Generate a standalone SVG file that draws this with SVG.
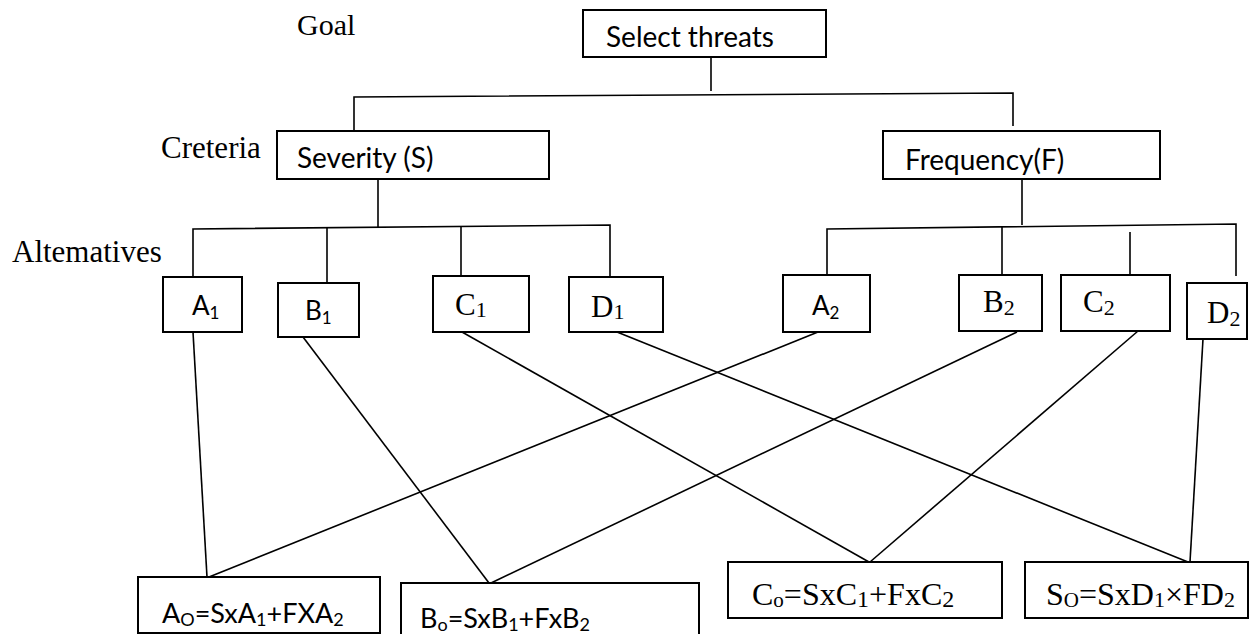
<svg xmlns="http://www.w3.org/2000/svg" width="1257" height="634" viewBox="0 0 1257 634">
<style>
.box{fill:#fff;stroke:#000;stroke-width:2}
.ln{stroke:#000;stroke-width:1.6;fill:none}
.serif{font-family:"Liberation Serif","Times New Roman",serif;fill:#000}
.sans{font-family:Lato,"Liberation Sans",sans-serif;fill:#000}
</style>
<rect width="1257" height="634" fill="#fff"/>
<g id="level-labels">
<text class="serif" x="297" y="35" font-size="30">Goal</text>
<text class="serif" x="161" y="158" font-size="31">Creteria</text>
<text class="serif" x="12" y="262" font-size="31">Altematives</text>
</g>
<g id="connectors" class="ln">
<line x1="711" y1="57" x2="711" y2="91"/>
<polyline points="354,131 354,97 1013,93 1013,126"/>
<line x1="378" y1="179" x2="378" y2="227"/>
<polyline points="193,277 193,229 610,225 610,277"/>
<line x1="327" y1="228" x2="327" y2="283"/>
<line x1="461" y1="226" x2="461" y2="279"/>
<line x1="1022" y1="179" x2="1022" y2="225"/>
<polyline points="827,275 827,229 1236,224 1236,276"/>
<line x1="1002" y1="227" x2="1002" y2="275"/>
<line x1="1130" y1="232" x2="1130" y2="278"/>
<line x1="193" y1="332" x2="207" y2="577"/>
<line x1="303" y1="337" x2="489" y2="583"/>
<line x1="462" y1="332" x2="869" y2="562"/>
<line x1="617" y1="332" x2="1188" y2="562"/>
<line x1="818" y1="332" x2="209" y2="577"/>
<line x1="1017" y1="332" x2="491" y2="583"/>
<line x1="1138" y1="331" x2="870" y2="562"/>
<line x1="1203" y1="339" x2="1190" y2="562"/>
</g>
<g id="goal"><rect class="box" x="583" y="10" width="243" height="47"/><text class="sans" x="606" y="47" font-size="28">Select threats</text></g>
<g id="severity"><rect class="box" x="277" y="131" width="272" height="48"/><text class="sans" x="297" y="168" font-size="28">Severity (S)</text></g>
<g id="frequency"><rect class="box" x="883" y="131" width="277" height="48"/><text class="sans" x="905" y="170" font-size="28">Frequency(F)</text></g>
<g id="A1"><rect class="box" x="163" y="277" width="79" height="55"/><text class="sans" x="192" y="315" font-size="26">A<tspan font-size="17" dy="4">1</tspan></text></g>
<g id="B1"><rect class="box" x="278" y="283" width="81" height="54"/><text class="sans" x="305" y="320" font-size="26">B<tspan font-size="17" dy="4">1</tspan></text></g>
<g id="C1"><rect class="box" x="433" y="276" width="96" height="56"/><text class="serif" x="455" y="315" font-size="31">C<tspan font-size="22" dy="2">1</tspan></text></g>
<g id="D1"><rect class="box" x="569" y="277" width="94" height="55"/><text class="serif" x="591" y="317" font-size="31">D<tspan font-size="22" dy="2">1</tspan></text></g>
<g id="A2"><rect class="box" x="783" y="275" width="87" height="57"/><text class="sans" x="812" y="315" font-size="26">A<tspan font-size="17" dy="4">2</tspan></text></g>
<g id="B2"><rect class="box" x="959" y="275" width="83" height="56"/><text class="serif" x="983" y="312" font-size="31">B<tspan font-size="22" dy="3">2</tspan></text></g>
<g id="C2"><rect class="box" x="1061" y="275" width="109" height="56"/><text class="serif" x="1083" y="312" font-size="31">C<tspan font-size="22" dy="3">2</tspan></text></g>
<g id="D2"><rect class="box" x="1187" y="283" width="60" height="56"/><text class="serif" x="1207" y="323" font-size="31">D<tspan font-size="22" dy="3">2</tspan></text></g>
<g id="A0"><rect class="box" x="138" y="577" width="242" height="56"/><text class="sans" x="162" y="623" font-size="27">A<tspan font-size="18" dy="3">O</tspan><tspan dy="-3">=SxA</tspan><tspan font-size="18" dy="3">1</tspan><tspan dy="-3">+FXA</tspan><tspan font-size="18" dy="3">2</tspan></text></g>
<g id="B0"><rect class="box" x="401" y="583" width="298" height="60"/><text class="sans" x="420" y="628" font-size="27">B<tspan font-size="18" dy="3">o</tspan><tspan dy="-3">=SxB</tspan><tspan font-size="18" dy="3">1</tspan><tspan dy="-3">+FxB</tspan><tspan font-size="18" dy="3">2</tspan></text></g>
<g id="C0"><rect class="box" x="728" y="562" width="274" height="56"/><text class="serif" x="752" y="605" font-size="32">C<tspan font-size="21" dy="2">o</tspan><tspan dy="-2">=SxC</tspan><tspan font-size="24" dy="2">1</tspan><tspan dy="-2">+FxC</tspan><tspan font-size="24" dy="2">2</tspan></text></g>
<g id="S0"><rect class="box" x="1025" y="562" width="223" height="56"/><text class="serif" x="1046" y="605" font-size="32">S<tspan font-size="21" dy="2">O</tspan><tspan dy="-2">=SxD</tspan><tspan font-size="22" dy="2">1</tspan><tspan dy="-2">×FD</tspan><tspan font-size="22" dy="2">2</tspan></text></g>
</svg>
